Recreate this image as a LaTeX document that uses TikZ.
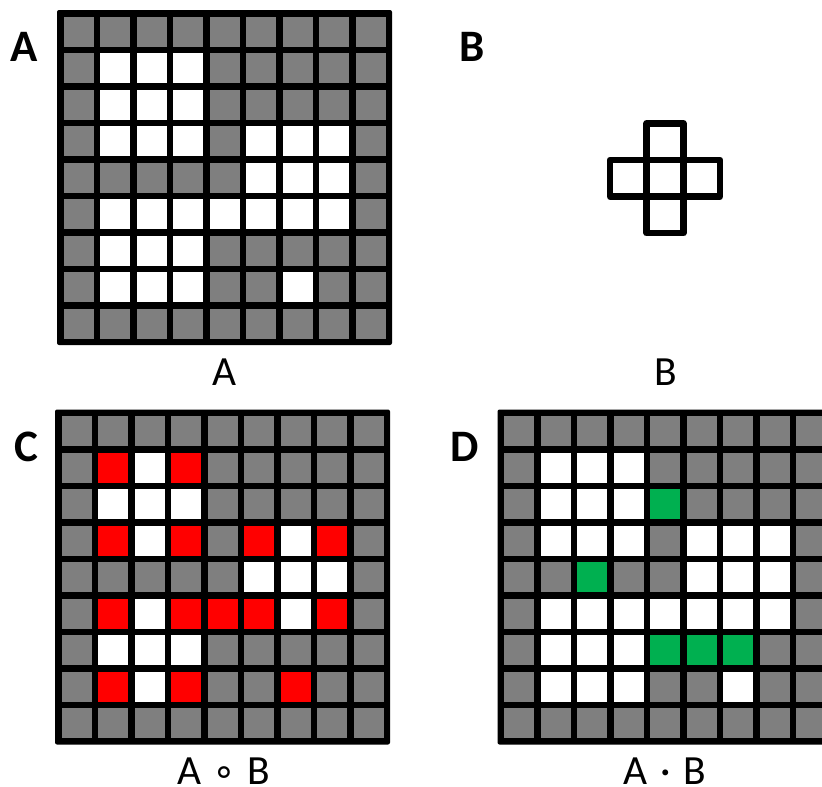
\documentclass[tikz,border=0pt]{standalone}
\usepackage{fontspec}
\setmainfont{Carlito}
\newfontfamily\djv{DejaVu Sans}
\definecolor{G}{HTML}{7F7F7F}
\definecolor{W}{HTML}{FFFFFF}
\definecolor{R}{HTML}{FF0000}
\definecolor{N}{HTML}{00B050}
\def\gridA{{G,G,G,G,G,G,G,G,G},{G,W,W,W,G,G,G,G,G},{G,W,W,W,G,G,G,G,G},{G,W,W,W,G,W,W,W,G},{G,G,G,G,G,W,W,W,G},{G,W,W,W,W,W,W,W,G},{G,W,W,W,G,G,G,G,G},{G,W,W,W,G,G,W,G,G},{G,G,G,G,G,G,G,G,G}}
\def\gridC{{G,G,G,G,G,G,G,G,G},{G,R,W,R,G,G,G,G,G},{G,W,W,W,G,G,G,G,G},{G,R,W,R,G,R,W,R,G},{G,G,G,G,G,W,W,W,G},{G,R,W,R,R,R,W,R,G},{G,W,W,W,G,G,G,G,G},{G,R,W,R,G,G,R,G,G},{G,G,G,G,G,G,G,G,G}}
\def\gridD{{G,G,G,G,G,G,G,G,G},{G,W,W,W,G,G,G,G,G},{G,W,W,W,N,G,G,G,G},{G,W,W,W,G,W,W,W,G},{G,G,N,G,G,W,W,W,G},{G,W,W,W,W,W,W,W,G},{G,W,W,W,N,N,N,G,G},{G,W,W,W,G,G,W,G,G},{G,G,G,G,G,G,G,G,G}}
\newcommand\drawgrid[3]{%
  \fill[black, rounded corners=2pt] (#1,#2) rectangle ++(335,335);
  \foreach \row [count=\r from 0] in #3 {
    \foreach \c [count=\k from 0] in \row {
      \fill[\c] ({#1+6.5+\k*36.5},{#2+6.5+\r*36.5}) rectangle ++(30,30);
    }
  }
}
\tikzset{
  lab/.style={font=\fontsize{45}{50}\selectfont\bfseries, anchor=base, inner sep=0pt},
  captext/.style={font=\fontsize{41.5}{46}\selectfont, anchor=base, inner sep=0pt},
  crossline/.style={line width=6.7pt, line join=round}
}
\begin{document}
\begin{tikzpicture}[x=1pt,y=-1pt]
\useasboundingbox (0,0) rectangle (822,787);
\clip (0,0) rectangle (822,787);
% grids
\drawgrid{57}{10}{\gridA}
\drawgrid{55}{409.5}{\gridC}
\drawgrid{497.5}{409.5}{\gridD}
% structuring element
\begin{scope}[shift={(665,178.2)}]
  \draw[crossline] (-18.3,-54.9) -- (18.3,-54.9) -- (18.3,-18.3) -- (54.9,-18.3) -- (54.9,18.3) -- (18.3,18.3) -- (18.3,54.9) -- (-18.3,54.9) -- (-18.3,18.3) -- (-54.9,18.3) -- (-54.9,-18.3) -- (-18.3,-18.3) -- cycle;
  \draw[crossline] (-18.3,-18.3) rectangle (18.3,18.3);
\end{scope}
% panel labels
\node[lab] (la) at (24,61.7) {A};
\node[lab] (lb) at (471.7,61.7) {B};
\node[lab] (lc) at (26,461.7) {C};
\node[lab] (ld) at (465,461.7) {D};
% captions
\node[captext] (ca) at (224.5,385) {A};
\node[captext] (cb) at (665.5,385) {B};
\node[captext] (cc) at (223.7,784.5) {A\hspace{2pt} {\djv\fontsize{38}{38}\selectfont ∘} \hspace{2pt}B};
\node[captext] (cd) at (664.7,784.5) {A\hspace{3pt} · \hspace{3pt}B};
\end{tikzpicture}
\end{document}
